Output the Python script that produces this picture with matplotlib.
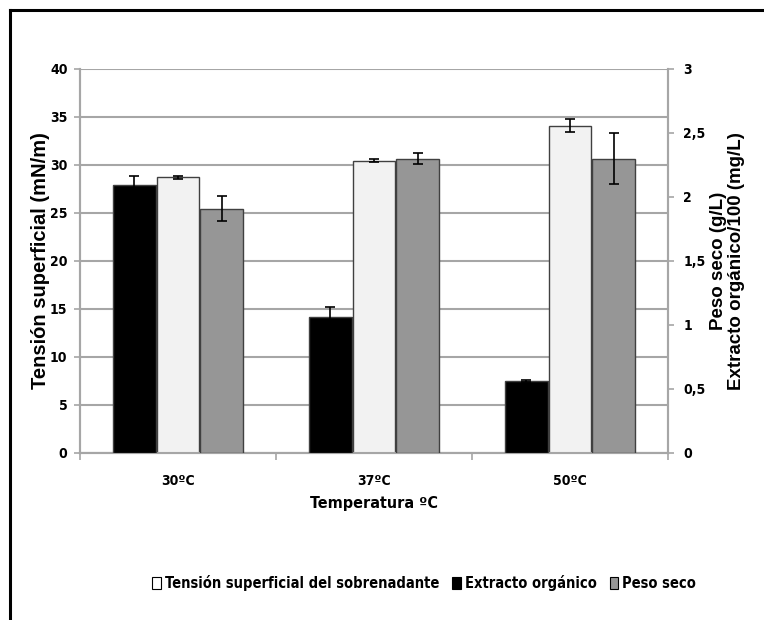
import numpy as np
import matplotlib
matplotlib.use("Agg")
import matplotlib.pyplot as plt
from matplotlib import font_manager
from matplotlib.lines import Line2D
from matplotlib.patches import Patch

# === Data ===
temperaturas = ["30ºC", "37ºC", "50ºC"]

# left axis: surface tension (mN/m)
tension = [28.7, 30.45, 34.1]
tension_err = [0.15, 0.15, 0.65]

# right axis: organic extract/100 (mg/L) and dry weight (g/L)
extracto = [2.09, 1.06, 0.56]
extracto_err = [0.075, 0.078, 0.008]
peso_seco = [1.91, 2.30, 2.30]
peso_seco_err = [0.10, 0.043, 0.20]

left_ticks = [0, 5, 10, 15, 20, 25, 30, 35, 40]
right_ticks = [0, 0.5, 1, 1.5, 2, 2.5, 3]
right_tick_labels = ["0", "0,5", "1", "1,5", "2", "2,5", "3"]

# === Fonts: look for a condensed face for the Excel "Arial Narrow" look ===
fonts = font_manager.fontManager.ttflist
names = {f.name for f in fonts}
narrow_stretch = "normal"
if "Liberation Sans Narrow" in names:
    narrow = ["Liberation Sans Narrow", "Liberation Sans", "DejaVu Sans"]
elif any(f.name == "DejaVu Sans" and f.stretch == "condensed" for f in fonts):
    narrow = ["DejaVu Sans"]
    narrow_stretch = "condensed"
else:
    narrow = ["Liberation Sans", "DejaVu Sans"]
wide = ["Liberation Sans", "DejaVu Sans"]

def nfont(size):
    return dict(family=narrow, weight="bold", size=size, stretch=narrow_stretch)

grid_c = "#a6a6a6"
edge_c = "#404040"
c_white, c_black, c_gray = "#f2f2f2", "#000000", "#969696"

fig = plt.figure(figsize=(7.64, 6.2), dpi=100)
ax = fig.add_axes([80 / 764, 1 - 453 / 620, 588 / 764, 384 / 620])
ax2 = ax.twinx()

x = np.arange(len(temperaturas))
w = 0.218
off = 0.222

err_kw = dict(ecolor="black", elinewidth=1.2, capsize=3.5, capthick=1.2)

ax.bar(x, tension, w, yerr=tension_err, color=c_white, edgecolor=edge_c,
       linewidth=1.0, error_kw=err_kw, zorder=3)
ax2.bar(x - off, extracto, w, yerr=extracto_err, color=c_black, edgecolor=edge_c,
        linewidth=1.0, error_kw=err_kw, zorder=3)
ax2.bar(x + off, peso_seco, w, yerr=peso_seco_err, color=c_gray, edgecolor=edge_c,
        linewidth=1.0, error_kw=err_kw, zorder=3)

ax.set_xlim(-0.5, len(temperaturas) - 0.5)
ax.set_ylim(0, 40)
ax2.set_ylim(0, 3)

ax.set_yticks(left_ticks)
ax.set_yticklabels([str(t) for t in left_ticks], fontproperties=nfont(10))
ax2.set_yticks(right_ticks)
ax2.set_yticklabels(right_tick_labels, fontproperties=nfont(10))

ax.set_xticks(x)
ax.set_xticklabels(temperaturas, fontproperties=nfont(10))
ax.set_xticks(np.arange(-0.5, len(temperaturas)), minor=True)
ax.tick_params(axis="x", which="major", length=0, pad=15)
ax.tick_params(axis="x", which="minor", length=5, color=grid_c, width=1.2)
ax.tick_params(axis="y", length=4, color=grid_c, width=1.2, pad=5)
ax2.tick_params(axis="y", length=4, color=grid_c, width=1.2, pad=7)

ax.yaxis.grid(True, color=grid_c, linewidth=1.5, zorder=0)
ax.set_axisbelow(True)

for a in (ax, ax2):
    a.spines["top"].set_visible(False)
    for s in ("left", "right", "bottom"):
        a.spines[s].set_color(grid_c)
        a.spines[s].set_linewidth(1.5)

ax.set_xlabel("Temperatura ºC", fontproperties=nfont(11.5), labelpad=6)
ax.set_ylabel("Tensión superficial (mN/m)", family=wide, fontweight="bold",
              fontsize=14.5, labelpad=0)
ax2.set_ylabel("Peso seco (g/L)\nExtracto orgánico/100 (mg/L)", family=wide,
               fontweight="bold", fontsize=13.5, labelpad=3, linespacing=1.08)

# === Legend ===
handles = [
    Patch(facecolor="white", edgecolor="black", linewidth=0.8),
    Patch(facecolor="black", edgecolor="black", linewidth=0.8),
    Patch(facecolor=c_gray, edgecolor="black", linewidth=0.8),
]
labels = ["Tensión superficial del sobrenadante", "Extracto orgánico", "Peso seco"]
fig.legend(handles, labels, loc="center", bbox_to_anchor=(424 / 764, 1 - 583 / 620),
           ncol=3, frameon=False, handlelength=0.6, handleheight=0.8,
           handletextpad=0.25, columnspacing=0.9, prop=nfont(10.5))

# === Outer frame (only left and top edges visible) ===
fig.add_artist(Line2D([10 / 764, 10 / 764], [0, 1 - 10 / 620], transform=fig.transFigure,
                      color="black", linewidth=2.2))
fig.add_artist(Line2D([10 / 764, 1], [1 - 10 / 620, 1 - 10 / 620], transform=fig.transFigure,
                      color="black", linewidth=2.2))

fig.savefig("out.png", dpi=100)
